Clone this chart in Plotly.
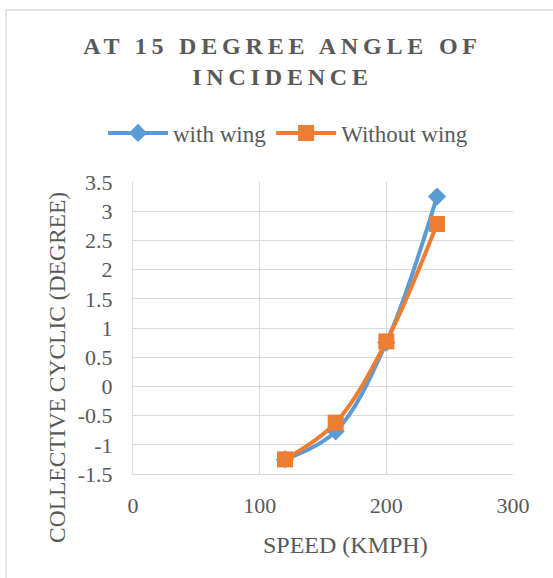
import plotly.graph_objects as go

speed_with = [120, 160, 200, 240]
with_wing = [-1.25, -0.77, 0.75, 3.25]
speed_without = [120, 160, 200, 240]
without_wing = [-1.25, -0.62, 0.77, 2.78]

x_ticks = [0, 100, 200, 300]
y_ticks = [-1.5, -1, -0.5, 0, 0.5, 1, 1.5, 2, 2.5, 3, 3.5]
y_tick_text = ["-1.5", "-1", "-0.5", "0", "0.5", "1", "1.5", "2", "2.5", "3", "3.5"]

BLUE = "#5B9BD5"
ORANGE = "#ED7D31"
GRAY = "#595959"
GRID = "#D9D9D9"
FONT = "Liberation Serif"

L, R, T, B = 133, 513, 182, 474
W, H = 553, 578
PW, PH = R - L, B - T

fig = go.Figure()
fig.add_trace(go.Scatter(
    x=speed_with, y=with_wing, name="with wing", mode="lines+markers",
    line=dict(color=BLUE, width=4, shape="spline"),
    marker=dict(symbol="diamond", size=14, color=BLUE),
))
fig.add_trace(go.Scatter(
    x=speed_without, y=without_wing, name="Without wing", mode="lines+markers",
    line=dict(color=ORANGE, width=4, shape="spline"),
    marker=dict(symbol="square", size=16, color=ORANGE),
))

fig.update_layout(
    width=W, height=H,
    margin=dict(l=L, r=W - R, t=T, b=H - B),
    paper_bgcolor="white", plot_bgcolor="white",
    font=dict(family=FONT, color=GRAY, size=22),
    title=dict(
        text='<span style="letter-spacing:4.8px">AT 15 DEGREE ANGLE OF<br>INCIDENCE</span>',
        x=0.5 + 6 / W, xanchor="center", y=1 - 54 / H, yanchor="top",
        font=dict(family=FONT, size=24, color=GRAY, weight="bold"),
    ),
    legend=dict(
        orientation="h", x=(288 - L) / PW, xanchor="center", y=1 + (T - 133) / PH, yanchor="middle",
        font=dict(family=FONT, size=23, color=GRAY),
        itemwidth=60,
    ),
    xaxis=dict(
        range=[0, 300], tickvals=x_ticks, showgrid=True, gridcolor=GRID,
        gridwidth=1.3, zeroline=False, showline=True, linecolor=GRID,
        ticks="outside", ticklen=12, tickcolor="rgba(0,0,0,0)", automargin=False,
        tickfont=dict(size=22, color=GRAY),
    ),
    yaxis=dict(
        range=[-1.5, 3.5], tickvals=y_ticks, ticktext=y_tick_text, showgrid=True,
        gridcolor=GRID, gridwidth=1.3, zeroline=False, showline=True,
        linecolor=GRID, ticks="outside", ticklen=15, tickcolor="rgba(0,0,0,0)",
        automargin=False,
        tickfont=dict(size=22, color=GRAY),
    ),
    annotations=[
        dict(text="SPEED (KMPH)", xref="paper", yref="paper",
             x=(345 - L) / PW, y=-(545 - B) / PH, xanchor="center", yanchor="middle",
             showarrow=False, font=dict(family=FONT, size=24, color=GRAY)),
        dict(text="COLLECTIVE CYCLIC (DEGREE)", xref="paper", yref="paper",
             x=(57 - L) / PW, y=(B - 368) / PH, xanchor="center", yanchor="middle",
             textangle=-90, showarrow=False, font=dict(family=FONT, size=23.5, color=GRAY)),
    ],
)

fig.add_shape(type="rect", xref="paper", yref="paper",
              x0=(6 - L) / PW, x1=1 + (W + 20 - R) / PW,
              y0=-(H + 20 - B) / PH, y1=1 + (T - 10) / PH,
              line=dict(color=GRID, width=1.3), fillcolor="rgba(0,0,0,0)", layer="below")

fig.write_html("out.html", config={"displayModeBar": False},
               post_script="document.body.style.margin='0';")
